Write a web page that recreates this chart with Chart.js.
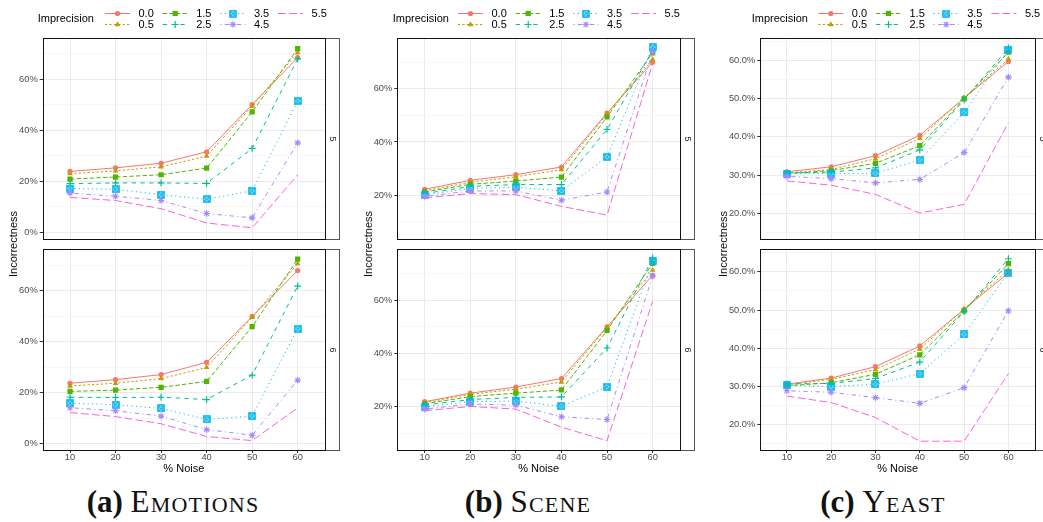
<!DOCTYPE html>
<html>
<head>
<meta charset="utf-8">
<script src="https://cdn.jsdelivr.net/npm/chart.js@4/dist/chart.umd.min.js"></script>
<style>
  body { margin: 0; background: #fff; width: 1043px; height: 522px; overflow: hidden; position: relative; font-family: "Liberation Sans", Arial, sans-serif; }
  canvas { position: absolute; }
  .ytitle { position: absolute; font-size: 11px; color: #000; white-space: nowrap; transform: translate(-50%, -50%) rotate(-90deg); }
  .caption { position: absolute; width: 300px; text-align: center; font-family: "Liberation Serif", serif; font-size: 31px; line-height: 31px; color: #111; white-space: nowrap; }
  .caption b { font-weight: bold; }
  .caption span { font-variant: small-caps; letter-spacing: 1.2px; }
</style>
</head>
<body>
<canvas id="a5" width="345" height="244" style="left:0;top:0"></canvas>
<canvas id="a6" width="345" height="234" style="left:0;top:244px"></canvas>
<canvas id="b5" width="350" height="244" style="left:350px;top:0"></canvas>
<canvas id="b6" width="350" height="234" style="left:350px;top:244px"></canvas>
<canvas id="c5" width="343" height="244" style="left:700px;top:0"></canvas>
<canvas id="c6" width="343" height="234" style="left:700px;top:244px"></canvas>

<div class="ytitle" style="left:13px;top:244px">Incorrectness</div>
<div class="ytitle" style="left:368px;top:244px">Incorrectness</div>
<div class="ytitle" style="left:723px;top:244px">Incorrectness</div>

<div class="caption" style="left:23px;top:486px"><b>(a)</b> <span>Emotions</span></div>
<div class="caption" style="left:378px;top:486px"><b>(b)</b> <span>Scene</span></div>
<div class="caption" style="left:733px;top:486px"><b>(c)</b> <span>Yeast</span></div>

<script>
const noise = [10, 20, 30, 40, 50, 60];
const imprecision = ['0.0', '0.5', '1.5', '2.5', '3.5', '4.5', '5.5'];

// incorrectness (%) per imprecision level, one row per level, one column per noise level
const emotions5 = [
  [23.9, 25.3, 27.1, 31.6, 50.1, 68.5],
  [23.0, 24.1, 25.7, 29.9, 49.5, 70.5],
  [20.9, 21.7, 22.6, 25.2, 47.2, 72.0],
  [19.1, 19.4, 19.4, 19.2, 32.9, 68.0],
  [17.2, 16.9, 14.8, 13.0, 16.3, 51.5],
  [15.4, 14.2, 12.5, 7.4, 5.7, 35.1],
  [13.7, 12.5, 9.3, 3.7, 1.8, 22.6]
];
const emotions6 = [
  [23.7, 25.1, 27.1, 31.9, 49.9, 67.9],
  [22.6, 23.7, 25.5, 29.9, 49.6, 70.6],
  [20.5, 21.0, 22.1, 24.4, 45.9, 72.4],
  [18.2, 18.1, 18.2, 17.3, 26.9, 61.8],
  [15.9, 15.3, 13.8, 9.5, 10.8, 45.1],
  [14.1, 12.9, 10.8, 5.5, 3.3, 24.9],
  [12.2, 10.6, 7.8, 2.8, 1.2, 14.0]
];
const scene5 = [
  [22.2, 25.6, 27.7, 30.6, 50.9, 70.0],
  [21.6, 24.9, 26.9, 29.6, 50.5, 71.0],
  [21.2, 24.1, 25.3, 26.8, 49.4, 73.5],
  [20.6, 23.3, 24.0, 24.0, 44.7, 74.4],
  [20.1, 22.5, 23.0, 21.6, 34.4, 75.7],
  [19.5, 21.6, 21.6, 18.1, 21.2, 73.8],
  [19.0, 20.6, 20.2, 15.8, 12.5, 69.5]
];
const scene6 = [
  [21.8, 25.0, 27.3, 30.5, 50.0, 69.4],
  [21.4, 24.6, 26.5, 29.2, 49.8, 71.3],
  [21.0, 23.7, 25.0, 26.2, 48.6, 73.9],
  [20.5, 22.6, 23.4, 23.6, 42.0, 75.9],
  [19.8, 21.8, 22.0, 20.0, 27.4, 74.6],
  [19.0, 20.9, 20.5, 16.1, 15.1, 69.1],
  [18.4, 20.0, 19.0, 12.2, 7.1, 59.6]
];
const yeast5 = [
  [30.9, 32.2, 35.1, 40.4, 50.1, 59.7],
  [30.6, 31.5, 34.3, 39.6, 50.3, 60.3],
  [30.4, 31.2, 33.1, 37.7, 49.9, 62.1],
  [30.6, 30.8, 31.9, 36.6, 49.7, 63.2],
  [30.4, 30.4, 30.5, 34.0, 46.4, 62.8],
  [29.7, 29.1, 28.0, 28.9, 35.9, 55.6],
  [28.5, 27.4, 25.0, 20.1, 22.4, 43.7]
];
const yeast6 = [
  [30.6, 32.2, 35.2, 40.6, 50.2, 59.7],
  [30.4, 31.9, 34.4, 39.8, 50.3, 60.5],
  [30.2, 31.0, 33.2, 38.3, 49.8, 62.1],
  [30.7, 30.8, 32.1, 36.4, 49.6, 63.4],
  [30.3, 30.0, 30.6, 33.4, 43.6, 59.8],
  [28.9, 28.5, 27.1, 25.6, 29.7, 49.8],
  [27.5, 25.8, 21.9, 15.7, 15.7, 33.4]
];

// y axis: range, labelled breaks and all gridline positions per dataset
const emotionsRange = [-2.5, 76.3];
const emotionsBreaks = [0, 20, 40, 60];
const emotionsGrid = [0, 10, 20, 30, 40, 50, 60, 70];
const sceneRange = [3.6, 79.2];
const sceneBreaks = [20, 40, 60];
const sceneGrid = [10, 20, 30, 40, 50, 60, 70];
const yeastRange = [13.4, 65.9];
const yeastBreaks = [20, 30, 40, 50, 60];
const yeastGrid = [15, 20, 25, 30, 35, 40, 45, 50, 55, 60, 65];

// ggplot-like styling
const colors = ['#F8766D', '#C49A00', '#53B400', '#00C094', '#00B6EB', '#A58AFF', '#FB61D7'];
const dashes = [[], [2.2, 2.2], [4.4, 2.2], [4.4, 4.4], [1.1, 3.3], [1.1, 3.3, 4.4, 3.3], [7.7, 3.3]];

function squareCross(color) {
  const c = document.createElement('canvas');
  c.width = 8; c.height = 8;
  const g = c.getContext('2d');
  g.strokeStyle = color;
  g.lineWidth = 1.6;
  g.strokeRect(1, 1, 6, 6);
  g.lineWidth = 1.2;
  g.beginPath();
  g.moveTo(1, 1); g.lineTo(7, 7);
  g.moveTo(7, 1); g.lineTo(1, 7);
  g.stroke();
  return c;
}

const markers = [
  { style: 'circle', radius: 2.6, width: 0 },
  { style: 'triangle', radius: 3.3, width: 0 },
  { style: 'rect', radius: 3.7, width: 0 },
  { style: 'cross', radius: 3.4, width: 1.2 },
  { style: squareCross(colors[4]), radius: 4, width: 0 },
  { style: 'star', radius: 3.3, width: 1.1 },
  { style: 'circle', radius: 0, width: 0 }
];

const tickFont = { family: '"Liberation Sans", Arial, sans-serif', size: 9.3, lineHeight: 1 };

// panel border and facet strip on the right side
const panelFrame = {
  id: 'panelFrame',
  afterDraw(chart, args, opts) {
    const { ctx, chartArea: a } = chart;
    const l = Math.round(a.left) + 0.5, t = Math.round(a.top) + 0.5;
    const r = Math.round(a.right) + 0.5, b = Math.round(a.bottom) + 0.5;
    ctx.save();
    ctx.fillStyle = '#fff';
    ctx.fillRect(r, t, 14, b - t);
    ctx.strokeStyle = '#555';
    ctx.lineWidth = 1;
    ctx.strokeRect(r, t, 14, b - t);
    ctx.strokeStyle = '#111';
    ctx.strokeRect(l, t, r - l, b - t);
    ctx.translate(r + 7, (t + b) / 2);
    ctx.rotate(Math.PI / 2);
    ctx.fillStyle = '#1a1a1a';
    ctx.font = '9px "Liberation Sans", Arial, sans-serif';
    ctx.textAlign = 'center';
    ctx.textBaseline = 'middle';
    ctx.fillText(opts.label, 0, 0);
    ctx.restore();
  }
};

// two-row legend above the top panel
const keyLegend = {
  id: 'keyLegend',
  afterDraw(chart, args, opts) {
    if (!opts.show) return;
    const ctx = chart.ctx;
    ctx.save();
    ctx.fillStyle = '#000';
    ctx.font = '11px "Liberation Sans", Arial, sans-serif';
    ctx.textBaseline = 'middle';
    ctx.fillText('Imprecision', opts.titleX, 18.5);
    chart.data.datasets.forEach((ds, i) => {
      const col = Math.floor(i / 2), row = i % 2;
      const x0 = opts.keyX + col * 57.7;
      const y = row ? 24.5 : 13.5;
      ctx.strokeStyle = ds.borderColor;
      ctx.fillStyle = ds.borderColor;
      ctx.lineWidth = 1;
      ctx.setLineDash(ds.borderDash);
      ctx.beginPath();
      ctx.moveTo(x0, y);
      ctx.lineTo(x0 + 25, y);
      ctx.stroke();
      ctx.setLineDash([]);
      if (ds.pointRadius > 0) {
        ctx.lineWidth = ds.pointBorderWidth;
        Chart.helpers.drawPoint(ctx, { pointStyle: ds.pointStyle, radius: ds.pointRadius, rotation: 0, borderWidth: ds.pointBorderWidth }, x0 + 12.5, y);
      }
      ctx.fillStyle = '#000';
      ctx.fillText(imprecision[i], x0 + 33.5, y);
    });
    ctx.restore();
  }
};

function makeFacet(id, rows, cfg) {
  const datasets = rows.map((vals, i) => ({
    label: imprecision[i],
    data: noise.map((n, k) => ({ x: n, y: vals[k] })),
    borderColor: colors[i],
    backgroundColor: colors[i],
    borderWidth: 1,
    borderDash: dashes[i],
    pointStyle: markers[i].style,
    pointRadius: markers[i].radius,
    pointBorderWidth: markers[i].width,
    pointBackgroundColor: colors[i],
    pointBorderColor: colors[i],
    order: 6 - i
  }));
  const isMajor = v => cfg.breaks.includes(v);
  new Chart(document.getElementById(id), {
    type: 'line',
    data: { datasets },
    plugins: [panelFrame, keyLegend],
    options: {
      responsive: false,
      animation: false,
      devicePixelRatio: 1,
      layout: { padding: { left: 0, right: cfg.padRight, top: cfg.padTop, bottom: cfg.padBottom } },
      plugins: {
        legend: { display: false },
        tooltip: { enabled: false },
        panelFrame: { label: cfg.strip },
        keyLegend: { show: !!cfg.legend, titleX: cfg.legend ? cfg.legend[0] : 0, keyX: cfg.legend ? cfg.legend[1] : 0 }
      },
      scales: {
        x: {
          type: 'linear',
          min: 4,
          max: 66,
          afterBuildTicks: s => { s.ticks = noise.map(v => ({ value: v })); },
          afterFit: s => { s.height = cfg.bottom ? 28 : 0; s.paddingLeft = 0; s.paddingRight = 0; },
          grid: { color: '#ebebeb', lineWidth: 1, drawTicks: cfg.bottom, tickLength: 3, tickColor: '#333' },
          border: { display: false },
          ticks: { display: cfg.bottom, autoSkip: false, maxRotation: 0, padding: 0, color: '#4d4d4d', font: tickFont },
          title: { display: cfg.bottom, text: '% Noise', color: '#000', font: { family: '"Liberation Sans", Arial, sans-serif', size: 11 }, padding: { top: 0, bottom: 2.4 } }
        },
        y: {
          type: 'linear',
          min: cfg.range[0],
          max: cfg.range[1],
          afterBuildTicks: s => { s.ticks = cfg.grid.map(v => ({ value: v })); },
          afterFit: s => { s.width = cfg.axisWidth; s.paddingTop = 0; s.paddingBottom = 0; },
          grid: {
            color: c => isMajor(c.tick.value) ? '#ebebeb' : '#f4f4f4',
            lineWidth: c => isMajor(c.tick.value) ? 1 : 0.7,
            drawTicks: true,
            tickLength: 3,
            tickColor: c => isMajor(c.tick.value) ? '#333' : 'rgba(0,0,0,0)'
          },
          border: { display: false },
          ticks: {
            autoSkip: false,
            padding: 2,
            color: '#4d4d4d',
            font: tickFont,
            callback: v => isMajor(v) ? cfg.fmt(v) : ''
          }
        }
      }
    }
  });
}

const pct = v => v + '%';
const pct1 = v => v.toFixed(1) + '%';

// Emotions
makeFacet('a5', emotions5, { range: emotionsRange, breaks: emotionsBreaks, grid: emotionsGrid, fmt: pct, axisWidth: 42.7, padRight: 20, padTop: 37.7, padBottom: 2, strip: '5', bottom: false, legend: [37.7, 105] });
makeFacet('a6', emotions6, { range: emotionsRange, breaks: emotionsBreaks, grid: emotionsGrid, fmt: pct, axisWidth: 42.7, padRight: 20, padTop: 1.7, padBottom: 0, strip: '6', bottom: true });
// Scene
makeFacet('b5', scene5, { range: sceneRange, breaks: sceneBreaks, grid: sceneGrid, fmt: pct, axisWidth: 47.3, padRight: 20, padTop: 37.7, padBottom: 2, strip: '5', bottom: false, legend: [42.7, 108] });
makeFacet('b6', scene6, { range: sceneRange, breaks: sceneBreaks, grid: sceneGrid, fmt: pct, axisWidth: 47.3, padRight: 20, padTop: 1.7, padBottom: 0, strip: '6', bottom: true });
// Yeast
makeFacet('c5', yeast5, { range: yeastRange, breaks: yeastBreaks, grid: yeastGrid, fmt: pct1, axisWidth: 60.3, padRight: 8, padTop: 37.7, padBottom: 2, strip: '5', bottom: false, legend: [51.7, 118.3] });
makeFacet('c6', yeast6, { range: yeastRange, breaks: yeastBreaks, grid: yeastGrid, fmt: pct1, axisWidth: 60.3, padRight: 8, padTop: 1.7, padBottom: 0, strip: '6', bottom: true });
</script>
</body>
</html>
